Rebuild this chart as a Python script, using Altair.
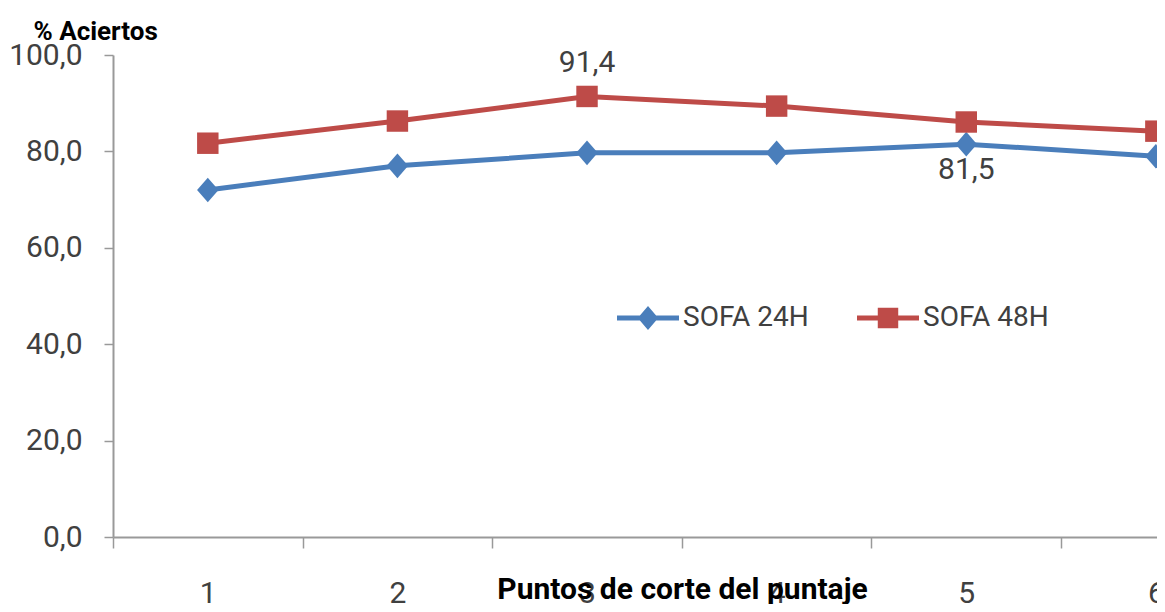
import altair as alt
import pandas as pd

categories = [1, 2, 3, 4, 5, 6]
sofa24 = [72.0, 77.0, 79.7, 79.7, 81.5, 79.0]
sofa48 = [81.7, 86.3, 91.4, 89.4, 86.1, 84.2]
series_names = ["SOFA 24H", "SOFA 48H"]
series_colors = ["#4a7ebb", "#be4b48"]
show_label_24 = [False, False, False, False, True, False]
show_label_48 = [False, False, True, False, False, False]
y_ticks = [0, 20, 40, 60, 80, 100]
x_bounds = [0.5, 1.5, 2.5, 3.5, 4.5, 5.5]

rows = []
for c, v, s in zip(categories, sofa24, show_label_24):
    rows.append({"x": c, "value": v, "series": series_names[0], "show": s})
for c, v, s in zip(categories, sofa48, show_label_48):
    rows.append({"x": c, "value": v, "series": series_names[1], "show": s})
df = pd.DataFrame(rows)

FONT = "Roboto"
DIAMOND = "M0,-1.15L1,0L0,1.15L-1,0Z"
LEG_24 = "M-1,-0.08L1,-0.08L1,0.08L-1,0.08Z M0,-0.39L0.33,0L0,0.39L-0.33,0Z"
LEG_48 = "M-1,-0.08L1,-0.08L1,0.08L-1,0.08Z M-0.33,-0.33L0.33,-0.33L0.33,0.33L-0.33,0.33Z"

x_enc = alt.X(
    "x:Q",
    scale=alt.Scale(domain=[0.5, 6.006], nice=False, zero=False),
    axis=alt.Axis(
        values=x_bounds + categories,
        labelExpr="datum.value % 1 == 0 ? format(datum.value, 'd') : ''",
        tickOpacity={"condition": {"test": "datum.value % 1 == 0", "value": 0}, "value": 1},
        tickSize=11,
        tickColor="#999999",
        tickWidth=1.5,
        domainColor="#999999",
        domainWidth=2,
        grid=False,
        labelFont=FONT,
        labelFontSize=30,
        labelColor="#404040",
        labelBaseline="middle",
        labelPadding=45,
        labelOverlap=False,
        labelFlush=False,
        title="Puntos de corte del puntaje",
        titleFont=FONT,
        titleFontSize=30,
        titleFontWeight="bold",
        titleColor="#000000",
        titleX=569,
        titleY=52,
        titleAlign="center",
        titleBaseline="middle",
    ),
)

y_enc = alt.Y(
    "value:Q",
    scale=alt.Scale(domain=[0, 100], nice=False, zero=True),
    axis=alt.Axis(
        values=y_ticks,
        labelExpr="replace(format(datum.value, '.1f'), '.', ',')",
        tickSize=9,
        tickColor="#999999",
        tickWidth=1.5,
        domainColor="#999999",
        domainWidth=2,
        grid=False,
        labelFont=FONT,
        labelFontSize=30,
        labelColor="#404040",
        labelPadding=22,
        title="% Aciertos",
        titleFont=FONT,
        titleFontSize=26,
        titleFontWeight="bold",
        titleColor="#000000",
        titleAngle=0,
        titleAlign="left",
        titleBaseline="alphabetic",
        titleX=-80,
        titleY=-16,
    ),
)

legend_props = dict(
    title=None,
    orient="none",
    direction="horizontal",
    legendX=504,
    legendY=232,
    padding=0,
    symbolSize=3844,
    symbolStrokeWidth=0,
    symbolOpacity=1,
    labelFont=FONT,
    labelFontSize=28,
    labelColor="#404040",
    labelOffset=4,
    columnPadding=48,
    labelLimit=300,
)

base = alt.Chart(df)

layers = []
marker_shapes = [DIAMOND, "square"]
for name, col, shp in zip(series_names, series_colors, marker_shapes):
    sub = base.transform_filter(alt.datum.series == name)
    layers.append(sub.mark_line(strokeWidth=5, color=col).encode(x=x_enc, y=y_enc))
for name, col, shp in zip(series_names, series_colors, marker_shapes):
    sub = base.transform_filter(alt.datum.series == name)
    layers.append(
        sub.mark_point(filled=True, opacity=1, size=460, color=col, shape=shp).encode(
            x=x_enc, y=y_enc
        )
    )

legend_layer = base.transform_filter("false").mark_point(filled=True).encode(
    x=x_enc,
    y=y_enc,
    color=alt.Color(
        "series:N",
        scale=alt.Scale(domain=series_names, range=series_colors),
        legend=alt.Legend(**legend_props),
    ),
    shape=alt.Shape(
        "series:N",
        scale=alt.Scale(domain=series_names, range=[LEG_24, LEG_48]),
        legend=alt.Legend(**legend_props),
    ),
)
layers.append(legend_layer)

label_expr = "replace(format(datum.value, '.1f'), '.', ',')"

labels_above = base.transform_filter(
    (alt.datum.show == True) & (alt.datum.series == series_names[1])
).transform_calculate(label=label_expr).mark_text(
    font=FONT, fontSize=30, color="#404040", baseline="middle", dy=-33
).encode(x=x_enc, y=y_enc, text="label:N")

labels_below = base.transform_filter(
    (alt.datum.show == True) & (alt.datum.series == series_names[0])
).transform_calculate(label=label_expr).mark_text(
    font=FONT, fontSize=30, color="#404040", baseline="middle", dy=26
).encode(x=x_enc, y=y_enc, text="label:N")

layers += [labels_above, labels_below]

chart = alt.layer(*layers).properties(
    width=1044,
    height=482,
    padding={"left": 105, "top": 47, "right": 0, "bottom": 67},
    autosize=alt.AutoSizeParams(type="none"),
    background="white",
).configure_view(stroke=None)

chart.save("out.html", embed_options={"renderer": "svg", "actions": False})
